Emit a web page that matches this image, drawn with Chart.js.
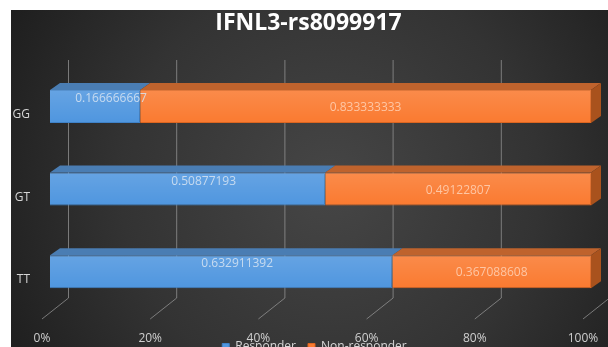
<!DOCTYPE html>
<html>
<head>
<meta charset="utf-8">
<script src="https://cdn.jsdelivr.net/npm/chart.js@4/dist/chart.umd.min.js"></script>
<style>
  body { margin: 0; background: #fff; overflow: hidden; }
  canvas { display: block; }
</style>
</head>
<body>
<canvas id="genotype_chart" width="608" height="380"></canvas>
<script>
var categories = ['GG', 'GT', 'TT'];
var seriesNames = ['Responder', 'Non-responder'];
var responder = [0.166666667, 0.50877193, 0.632911392];
var nonResponder = [0.833333333, 0.49122807, 0.367088608];
var tickLabels = ['0%', '20%', '40%', '60%', '80%', '100%'];

var blue = '#4f96df';
var orange = '#fa7a30';

// 3D depth of the bars and of the back wall
var depthX = 10, depthY = -7;
var wallX = 18;

var excel3d = {
    id: 'excel3d',
    afterLayout: function(chart) {
        // title and legend are centred a bit right of the canvas middle
        if (chart.titleBlock) chart.titleBlock.left = 26;
        if (chart.legend) {
            var h = chart.legend.height;
            chart.legend.left = 38;
            chart.legend.top = chart.chartArea.bottom + 16;
            chart.legend.bottom = chart.legend.top + h;
        }
    },
    beforeDraw: function(chart) {
        var ctx = chart.ctx;
        ctx.save();
        ctx.fillStyle = '#ffffff';
        ctx.fillRect(0, 0, chart.width, chart.height);
        var g = ctx.createRadialGradient(330, 185, 0, 330, 185, 380);
        g.addColorStop(0, '#464646');
        g.addColorStop(0.55, '#333333');
        g.addColorStop(1, '#1c1c1c');
        ctx.fillStyle = g;
        ctx.fillRect(11, 10, chart.width - 11, chart.height - 10);
        ctx.restore();
    },
    beforeDatasetsDraw: function(chart) {
        // gridlines on the back wall and the floor
        var ctx = chart.ctx;
        var xs = chart.scales.x;
        ctx.save();
        ctx.strokeStyle = 'rgba(150,150,150,0.75)';
        ctx.lineWidth = 1;
        for (var i = 0; i < tickLabels.length; i++) {
            var front = xs.getPixelForValue(i * 0.2);
            var back = front + wallX;
            ctx.beginPath();
            ctx.moveTo(back + 0.5, 60);
            ctx.lineTo(back + 0.5, 298);
            ctx.lineTo(front - 8, 319);
            ctx.stroke();
        }
        ctx.restore();
    },
    afterDatasetsDraw: function(chart) {
        var ctx = chart.ctx;
        var tops = ['#4a7db3', '#bf632d'];
        ctx.save();
        chart.data.datasets.forEach(function(ds, di) {
            var meta = chart.getDatasetMeta(di);
            meta.data.forEach(function(bar) {
                var x0 = Math.min(bar.base, bar.x), x1 = Math.max(bar.base, bar.x);
                var top = bar.y - bar.height / 2, bottom = bar.y + bar.height / 2;
                // shading on the front
                var sh = ctx.createLinearGradient(0, top, 0, bottom);
                sh.addColorStop(0, 'rgba(255,255,255,0.13)');
                sh.addColorStop(1, 'rgba(255,255,255,0)');
                ctx.fillStyle = sh;
                ctx.fillRect(x0, top, x1 - x0, bottom - top);
                // top face
                ctx.fillStyle = tops[di];
                ctx.beginPath();
                ctx.moveTo(x0, top);
                ctx.lineTo(x0 + depthX, top + depthY);
                ctx.lineTo(x1 + depthX, top + depthY);
                ctx.lineTo(x1, top);
                ctx.closePath();
                ctx.fill();
                // right side face on the last segment
                if (di === chart.data.datasets.length - 1) {
                    ctx.fillStyle = '#a9521d';
                    ctx.beginPath();
                    ctx.moveTo(x1, top);
                    ctx.lineTo(x1 + depthX, top + depthY);
                    ctx.lineTo(x1 + depthX, bottom + depthY);
                    ctx.lineTo(x1, bottom);
                    ctx.closePath();
                    ctx.fill();
                }
            });
        });
        // value labels
        ctx.font = '12px "Open Sans"';
        ctx.textAlign = 'center';
        ctx.textBaseline = 'middle';
        var offs = [{dx: 16, dy: -8}, {dx: 0, dy: 1}];
        chart.data.datasets.forEach(function(ds, di) {
            var meta = chart.getDatasetMeta(di);
            ctx.fillStyle = di === 0 ? 'rgba(215,228,242,0.85)' : 'rgba(255,215,190,0.8)';
            meta.data.forEach(function(bar, i) {
                var cx = (bar.base + bar.x) / 2 + offs[di].dx;
                ctx.fillText(String(ds.data[i]), cx, bar.y + offs[di].dy);
            });
        });
        ctx.restore();
        // shadow for the title, drawn next (z: 1)
        ctx.save();
        ctx.shadowColor = 'rgba(0,0,0,0.9)';
        ctx.shadowOffsetX = 1;
        ctx.shadowOffsetY = 2;
        ctx.shadowBlur = 2;
    },
    afterDraw: function(chart) {
        chart.ctx.restore();
    }
};

var ctxGenotype = document.getElementById('genotype_chart').getContext('2d');

var genotype_chart = new Chart(ctxGenotype, {
    type: 'bar',
    data: {
        labels: categories,
        datasets: [{
            label: seriesNames[0],
            data: responder,
            backgroundColor: blue,
            borderColor: '#3f82c8',
            borderWidth: 1,
            barPercentage: 0.4,
            categoryPercentage: 1
        }, {
            label: seriesNames[1],
            data: nonResponder,
            backgroundColor: orange,
            borderColor: '#dc6520',
            borderWidth: 1,
            barPercentage: 0.4,
            categoryPercentage: 1
        }]
    },
    options: {
        indexAxis: 'y',
        responsive: false,
        animation: false,
        layout: { padding: { left: 0, right: 17, top: 0, bottom: 0 } },
        scales: {
            x: {
                stacked: true,
                min: 0,
                max: 1,
                grid: { display: false, drawTicks: false },
                border: { display: false },
                ticks: {
                    stepSize: 0.2,
                    padding: 18,
                    labelOffset: -8,
                    color: '#cfcfcf',
                    font: { family: 'Open Sans', size: 12 },
                    callback: function(v, i) { return tickLabels[i]; }
                },
                afterFit: function(scale) {
                    scale.height = 33;
                    scale.paddingLeft = 0;
                    scale.paddingRight = 0;
                }
            },
            y: {
                stacked: true,
                grid: { display: false, drawTicks: false },
                border: { display: false },
                ticks: {
                    padding: 20,
                    labelOffset: 8,
                    color: '#d6d6d6',
                    font: { family: 'Open Sans', size: 12 }
                },
                afterFit: function(scale) { scale.width = 50; }
            }
        },
        plugins: {
            title: {
                display: true,
                text: 'IFNL3-rs8099917',
                color: '#ffffff',
                font: { family: 'Open Sans', size: 23, weight: 'bold' },
                padding: { top: 9.5, bottom: 28.1 },
                z: 1
            },
            legend: {
                position: 'bottom',
                labels: {
                    color: '#d6d6d6',
                    boxWidth: 7,
                    boxHeight: 7,
                    padding: 12,
                    font: { family: 'Open Sans', size: 12 }
                }
            },
            tooltip: { enabled: false }
        }
    },
    plugins: [excel3d]
});
</script>
</body>
</html>
